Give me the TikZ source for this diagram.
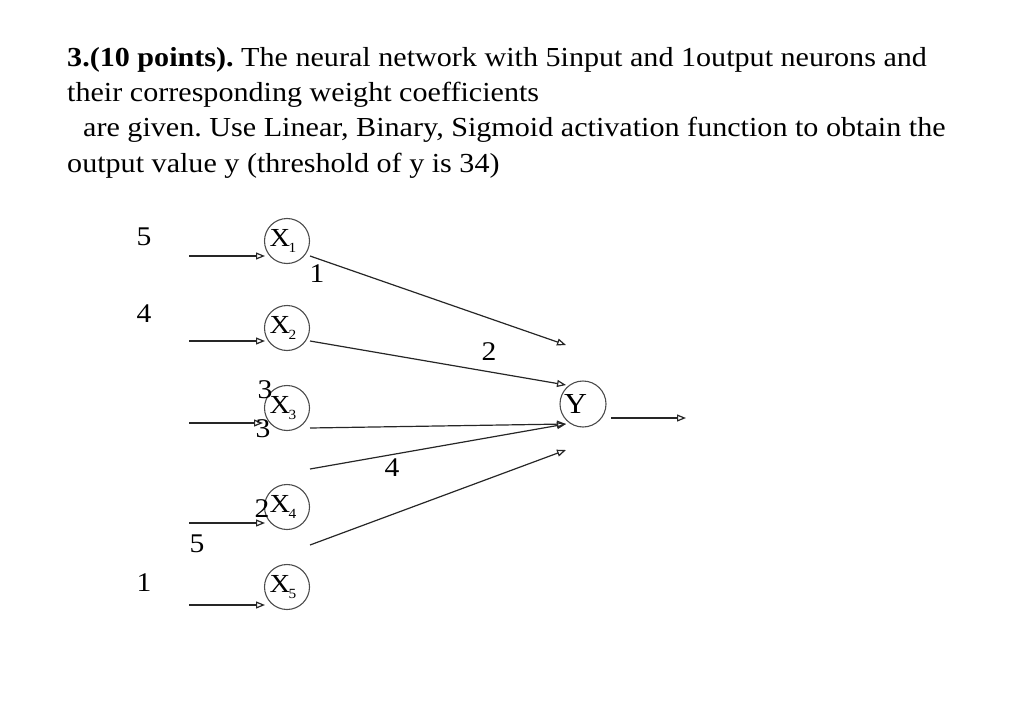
\documentclass[tikz,border=0pt]{standalone}
\usepackage{fontspec}
\setmainfont{Liberation Serif}
\usetikzlibrary{arrows.meta}
\frenchspacing
\begin{document}
\begin{tikzpicture}[x=1pt,y=-1pt,
  neuron/.style={circle,draw=black!70,line width=1.1pt,minimum size=45pt,inner sep=0pt},
  conn/.style={draw=black!85,line width=1.2pt,-{Triangle[open,length=9pt,width=7pt]}},
  lbl/.style={inner sep=0pt,anchor=base,font=\fontsize{27}{32}\selectfont},
  ttl/.style={inner sep=0pt,anchor=base west,font=\fontsize{27.5}{33}\selectfont}]
\useasboundingbox (0,0) rectangle (1024,714);
% title
\newcommand{\wide}[1]{\scalebox{1.095}[1]{#1}}
\node[ttl] (t1) at (67,67) {\wide{\textbf{3.(10 points).} The neural network with 5input and 1output neurons and}};
\node[ttl] (t2) at (67,102) {\wide{their corresponding weight coefficients}};
\node[ttl] (t3) at (83,137) {\wide{are given. Use Linear, Binary, Sigmoid activation function to obtain the}};
\node[ttl] (t4) at (67,172) {\wide{output value y (threshold of y is 34)}};
% neurons
\newcommand{\nsub}[2]{\wide{\fontsize{26}{30}\selectfont #1\kern-1.5pt\raisebox{-0.55ex}{\fontsize{14}{16}\selectfont #2}}\kern8pt}
\node[neuron] (x1) at (287,241) {\nsub{X}{1}};
\node[neuron] (x2) at (287,328) {\nsub{X}{2}};
\node[neuron] (x3) at (287,408) {\nsub{X}{3}};
\node[neuron] (x4) at (287,507) {\nsub{X}{4}};
\node[neuron] (x5) at (287,587) {\nsub{X}{5}};
\node[neuron,minimum size=46pt] (y) at (583,404) {\wide{\fontsize{29}{34}\selectfont Y}\kern15pt};
% input arrows
\coordinate (i1) at (189,256); \coordinate (e1) at (265,256);
\coordinate (i2) at (189,341); \coordinate (e2) at (265,341);
\coordinate (i3) at (189,423); \coordinate (e3) at (263,423);
\coordinate (i4) at (189,523); \coordinate (e4) at (265,523);
\coordinate (i5) at (189,605); \coordinate (e5) at (265,605);
\foreach \k in {1,...,5} \draw[conn] (i\k) -- (e\k);
% input labels
\node[lbl] (l5a) at (144,245) {\wide{5}};
\node[lbl] (l4) at (144,322) {\wide{4}};
\node[lbl] (l1) at (144,591) {\wide{1}};
\node[lbl] (l5b) at (197,552) {\wide{5}};
\node[lbl] (l3a) at (265,398) {\wide{3}};
\node[lbl] (l3b) at (263,437) {\wide{3}};
\node[lbl] (l2) at (262,517) {\wide{2}};
% weight lines
\coordinate (s1) at (310,256); \coordinate (d1) at (566,345);
\coordinate (s2) at (310,341); \coordinate (d2) at (566,385);
\coordinate (s3) at (310,428); \coordinate (d3) at (566,424);
\coordinate (s4) at (310,469); \coordinate (d4) at (566,424);
\coordinate (s5) at (310,545); \coordinate (d5) at (566,450);
\foreach \k in {1,...,5} \draw[conn] (s\k) -- (d\k);
% weight labels
\node[lbl] (w1) at (317,282) {\wide{1}};
\node[lbl] (w2) at (489,360) {\wide{2}};
\node[lbl] (w4) at (392,476) {\wide{4}};
% output
\coordinate (o1) at (611,418); \coordinate (o2) at (686,418);
\draw[conn] (o1) -- (o2);
\end{tikzpicture}
\end{document}
